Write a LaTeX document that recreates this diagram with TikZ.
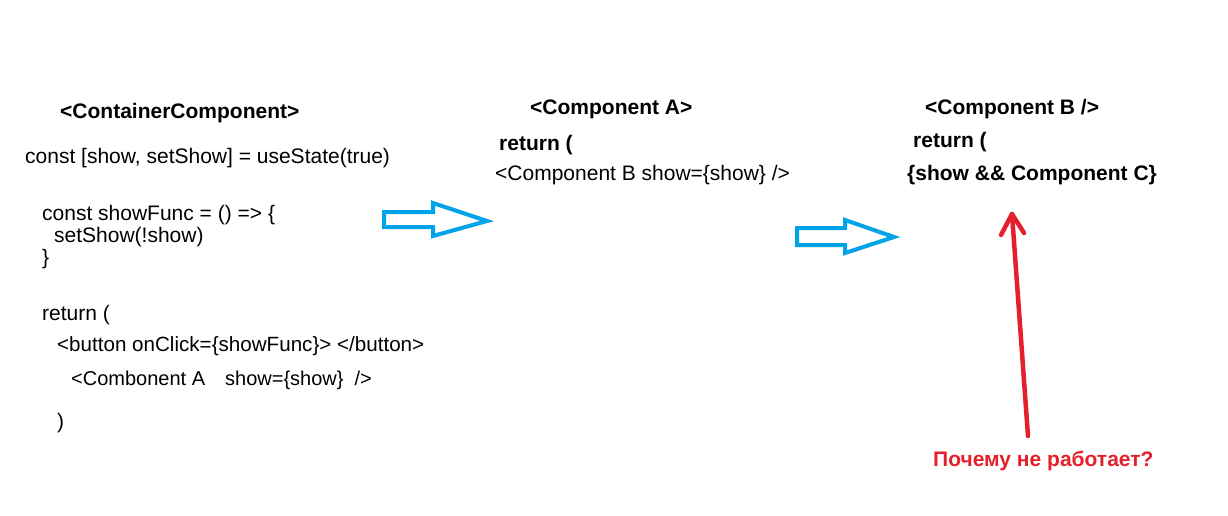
\documentclass[tikz,border=0pt]{standalone}
\usepackage{fontspec}
\setmainfont{Liberation Sans}
\usepackage{tikz}

\definecolor{paintblue}{RGB}{0,162,232}
\definecolor{paintred}{RGB}{228,32,44}

\tikzset{
  code/.style={anchor=base west, inner sep=0pt, font=\fontsize{21}{25}\selectfont},
  codebold/.style={code, font=\fontsize{21}{25}\selectfont\bfseries},
  bluearrow/.style={draw=paintblue, line width=4pt, line join=miter},
  redline/.style={draw=paintred, line width=4.5pt, line cap=round, line join=round}
}

\begin{document}
\begin{tikzpicture}[x=1pt,y=-1pt]
		\useasboundingbox (0,0) rectangle (1228,516);
		
		% container component
		\node[codebold] (cchead) at (60,119) {<ContainerComponent>};
		\node[code] (cstate) at (25,163) {const [show, setShow] = useState(true)};
		\node[code] (cfunc) at (42,220) {const showFunc = () => \{};
		\node[code] (cset) at (54,242) {setShow(!show)};
		\node[code] (cclose) at (42,264) {\}};
		\node[code] (cret) at (42,320) {return (};
		\node[code, font=\fontsize{20.6}{25}\selectfont] (cbtn) at (57,351) {<button onClick=\{showFunc\}> </button>};
		\node[code, font=\fontsize{20}{25}\selectfont] (ccompa) at (71,385) {<Combonent A\hspace{20pt}show=\{show\}\hspace{11pt}/>};
		\node[code] (cparen) at (57,428) {)};
		
		% component A
		\node[codebold] (ahead) at (530,115) {<Component A>};
		\node[codebold] (aret) at (499,150) {return (};
		\node[code] (abody) at (495,180) {<Component B show=\{show\} />};
		
		% component B
		\node[codebold] (bhead) at (925,115) {<Component B />};
		\node[codebold] (bret) at (913,147) {return (};
		\node[codebold] (bbody) at (907,180) {\{show \&\& Component C\}};
		
		% question
		\node[codebold, text=paintred] (why) at (933,466) {Почему не работает?};
		
		% outline arrows
		\draw[bluearrow] (384,212)--(433,212)--(433,203)--(487,221)--(433,236)--(433,227)--(384,227)--cycle;
		\draw[bluearrow] (797,228)--(845,228)--(845,220)--(894,237)--(845,253)--(845,245)--(797,245)--cycle;
		
		% red arrow
		\coordinate (tip) at (1012,214);
		\coordinate (tail) at (1028,436);
		\draw[redline] (tail)--(tip);
		\draw[redline] (1001,235)--(tip)--(1024,233);
	\end{tikzpicture}
\end{document}
